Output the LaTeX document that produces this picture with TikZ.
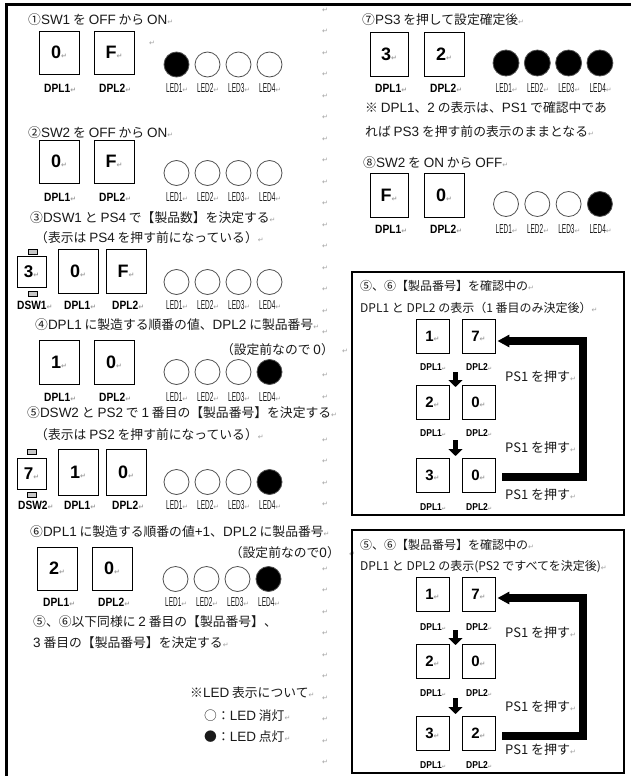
\documentclass[tikz,border=0pt]{standalone}
\usepackage{fontspec}
\usepackage{graphicx}
\setmainfont{Liberation Sans}
\newfontfamily\jpu{Noto Sans CJK JP}
\newfontfamily\arf{Liberation Sans}
\newfontfamily\dvf{DejaVu Sans}
\usetikzlibrary{arrows.meta,calc}
\newcommand\E[1]{{\arf\fontsize{13.5}{13.5}\selectfont #1}}
\definecolor{txt}{HTML}{1A1A1A}
\definecolor{pmc}{HTML}{A0A0A0}
\definecolor{ledline}{HTML}{505050}
\newcommand\pmark{{\dvf\fontsize{7}{7}\selectfont\textcolor{pmc}{↵}}}
\newcommand\pmsmall{{\dvf\fontsize{5}{5}\selectfont\textcolor{pmc}{↵}}}
\newcommand\sx[2][0.85]{\scalebox{#1}[1]{#2}}
\tikzset{
  jt/.style={font=\jpu\fontsize{12.8}{12.8}\selectfont, text=txt, inner sep=0, anchor=west},
  jtn/.style={font=\jpu\fontsize{12}{12}\selectfont, text=txt, inner sep=0, anchor=west},
  pst/.style={font=\jpu\fontsize{13}{13}\selectfont, text=txt, inner sep=0, anchor=west},
  dbox/.style={draw, line width=0.9pt, inner sep=0, minimum width=40pt, minimum height=43pt,
     font=\arf\bfseries\fontsize{18}{18}\selectfont},
  dboxs/.style={draw, line width=0.9pt, inner sep=0, minimum width=33pt, minimum height=34pt,
     font=\arf\bfseries\fontsize{15}{15}\selectfont},
  dsw/.style={draw, line width=0.9pt, inner sep=0, minimum width=29pt, minimum height=31pt,
     font=\arf\bfseries\fontsize{17}{17}\selectfont},
  tabk/.style={draw, fill=gray!45, line width=0.6pt, minimum width=9pt, minimum height=5pt, inner sep=0},
  led/.style={circle, draw=ledline, line width=0.8pt, minimum size=25pt, inner sep=0},
  lbl/.style={font=\arf\bfseries\fontsize{12}{12}\selectfont, inner sep=0, anchor=west},
  lbls/.style={font=\arf\bfseries\fontsize{10}{10}\selectfont, inner sep=0, anchor=west},
  ledlbl/.style={font=\arf\fontsize{13}{13}\selectfont, text=txt, inner sep=0, anchor=west},
  frameline/.style={line width=3pt},
  subframe/.style={draw, line width=2.2pt},
  loopbar/.style={line width=8pt, line join=miter, -{Triangle[length=12pt,width=12pt]}},
  downarr/.style={line width=5pt, -{Triangle[length=7pt,width=14pt]}},
  pmn/.style={inner sep=0}
}
\begin{document}
\begin{tikzpicture}[x=1pt,y=-1pt]
\useasboundingbox (0,0) rectangle (630,776);
\fill[white] (0,0) rectangle (630,776);
% outer frame
\draw[frameline] (6.5,776) -- (6.5,5) -- (632,5);
% paragraph mark column
\foreach \k in {0,...,15,17,18,20,21,22,23,26,27,28,29,30,31,32,33,34,35} \node[pmn] (pm\k) at (325,{10+21.5*\k}) {\pmark};

% ---------- Section 1
\node[jt] (t1) at (28,20) {①\E{SW1} を \E{OFF} から \E{ON}\pmark};
\node[dbox] (s1a) at (59,52.5) {0\pmark};
\node[dbox] (s1b) at (114,52.5) {F\pmark};
\node[lbl] (s1la) at (44,88) {\sx{DPL1}\pmark};
\node[lbl] (s1lb) at (99,88) {\sx{DPL2}\pmark};
\node[pmn] (s1pm) at (152,43) {\pmark};
\foreach \i/\f in {1/black,2/white,3/white,4/white}{
  \node[led, fill=\f] (s1L\i) at ({176.5+31*(\i-1)},64.5) {};
  \node[ledlbl] (s1T\i) at ({166+31*(\i-1)},88) {\sx[0.5]{LED\i}\pmark};}

% ---------- Section 2
\node[jt] (t2) at (28,133) {②\E{SW2} を \E{OFF} から \E{ON}\pmark};
\node[dbox] (s2a) at (59,161.5) {0\pmark};
\node[dbox] (s2b) at (114,161.5) {F\pmark};
\node[lbl] (s2la) at (44,197) {\sx{DPL1}\pmark};
\node[lbl] (s2lb) at (99,197) {\sx{DPL2}\pmark};
\foreach \i/\f in {1/white,2/white,3/white,4/white}{
  \node[led, fill=\f] (s2L\i) at ({176.5+31*(\i-1)},173) {};
  \node[ledlbl] (s2T\i) at ({166+31*(\i-1)},197) {\sx[0.5]{LED\i}\pmark};}

% ---------- Section 3
\node[jt] (t3) at (30,218) {③\E{DSW1} と \E{PS4} で【製品数】を決定する\pmark};
\node[jt] (t3b) at (35,238) {（表示は \E{PS4} を押す前になっている）\pmark};
\node[tabk] (s3tab) at (32.5,251.5) {};
\node[dsw] (s3s) at (31.5,271.5) {3\pmark};
\node[tabk] (s3tabb) at (32.5,293.5) {};
\node[dbox, minimum height=44pt] (s3a) at (78,271) {0\pmark};
\node[dbox, minimum height=44pt] (s3b) at (126,271) {F\pmark};
\node[lbl] (s3ls) at (17,305) {\sx{DSW1}\pmark};
\node[lbl] (s3la) at (64,305) {\sx{DPL1}\pmark};
\node[lbl] (s3lb) at (112,305) {\sx{DPL2}\pmark};
\foreach \i/\f in {1/white,2/white,3/white,4/white}{
  \node[led, fill=\f] (s3L\i) at ({176.5+31*(\i-1)},282) {};
  \node[ledlbl] (s3T\i) at ({166+31*(\i-1)},305) {\sx[0.5]{LED\i}\pmark};}

% ---------- Section 4
\node[jt] (t4) at (35,325) {④\E{DPL1} に製造する順番の値、\E{DPL2} に製品番号\pmark};
\node[jt, anchor=east] (t4b) at (334,350) {（設定前なので \E{0}）};
\node[pmn] (t4pm) at (345,351) {\pmark};
\node[dbox, minimum height=44pt] (s4a) at (59,362) {1\pmark};
\node[dbox, minimum height=44pt] (s4b) at (114,362) {0\pmark};
\node[lbl] (s4la) at (44,397) {\sx{DPL1}\pmark};
\node[lbl] (s4lb) at (99,397) {\sx{DPL2}\pmark};
\foreach \i/\f in {1/white,2/white,3/white,4/black}{
  \node[led, fill=\f] (s4L\i) at ({176.5+31*(\i-1)},372) {};
  \node[ledlbl] (s4T\i) at ({166+31*(\i-1)},397) {\sx[0.5]{LED\i}\pmark};}

% ---------- Section 5
\node[jt] (t5) at (27,413) {⑤\E{DSW2} と \E{PS2} で \E{1} 番目の【製品番号】を決定する\pmark};
\node[jt] (t5b) at (35,435) {（表示は \E{PS2} を押す前になっている）\pmark};
\node[tabk] (s5tab) at (32,451.5) {};
\node[dsw] (s5s) at (31.5,473.5) {7\pmark};
\node[tabk] (s5tabb) at (32,495) {};
\node[dbox, minimum height=46pt] (s5a) at (78,472) {1\pmark};
\node[dbox, minimum height=46pt] (s5b) at (126,472) {0\pmark};
\node[lbl] (s5ls) at (18,505) {\sx{DSW2}\pmark};
\node[lbl] (s5la) at (64,505) {\sx{DPL1}\pmark};
\node[lbl] (s5lb) at (112,505) {\sx{DPL2}\pmark};
\foreach \i/\f in {1/white,2/white,3/white,4/black}{
  \node[led, fill=\f] (s5L\i) at ({176.5+31*(\i-1)},482) {};
  \node[ledlbl] (s5T\i) at ({166+31*(\i-1)},505) {\sx[0.5]{LED\i}\pmark};}

% ---------- Section 6
\node[jt] (t6) at (30,532) {⑥\E{DPL1} に製造する順番の値\E{+1}、\E{DPL2} に製品番号\pmark};
\node[jt, anchor=east] (t6b) at (340,553) {（設定前なので\E{0}）};
\node[pmn] (t6pm) at (352,554) {\pmark};
\node[dbox] (s6a) at (57,568.5) {2\pmark};
\node[dbox] (s6b) at (112,568.5) {0\pmark};
\node[lbl] (s6la) at (43,602) {\sx{DPL1}\pmark};
\node[lbl] (s6lb) at (98,602) {\sx{DPL2}\pmark};
\foreach \i/\f in {1/white,2/white,3/white,4/black}{
  \node[led, fill=\f] (s6L\i) at ({175.5+31*(\i-1)},579) {};
  \node[ledlbl] (s6T\i) at ({165+31*(\i-1)},602) {\sx[0.5]{LED\i}\pmark};}
\node[jt] (t6c) at (33,622) {⑤、⑥以下同様に \E{2} 番目の【製品番号】、};
\node[jt] (t6d) at (33,643) {\E{3} 番目の【製品番号】を決定する\pmark};

% ---------- LED note
\node[jt] (n1) at (190,693) {※\E{LED} 表示について\pmark};
\node[jt] (n2) at (204,716) {○：\E{LED} 消灯\pmark};
\node[jt] (n3) at (204,737) {●：\E{LED} 点灯\pmark};

% ---------- Section 7
\node[jt] (t7) at (362,20) {⑦\E{PS3} を押して設定確定後\pmark};
\node[dbox, minimum width=38pt, minimum height=44pt] (s7a) at (389,54) {3\pmark};
\node[dbox, minimum height=44pt] (s7b) at (444,54) {2\pmark};
\node[lbl] (s7la) at (375,88) {\sx{DPL1}\pmark};
\node[lbl] (s7lb) at (430,88) {\sx{DPL2}\pmark};
\foreach \i/\f in {1/black,2/black,3/black,4/black}{
  \node[led, fill=\f, minimum size=26pt] (s7L\i) at ({506+31.3*(\i-1)},63) {};
  \node[ledlbl] (s7T\i) at ({495.5+31.3*(\i-1)},88) {\sx[0.5]{LED\i}\pmark};}
\node[jt] (t7b) at (365,108) {※ \E{DPL1}、\E{2} の表示は、\E{PS1} で確認中であ};
\node[jt] (t7c) at (365,132) {れば \E{PS3} を押す前の表示のままとなる\pmark};

% ---------- Section 8
\node[jt] (t8) at (363,163) {⑧\E{SW2} を \E{ON} から \E{OFF}\pmark};
\node[dbox, minimum width=38pt, minimum height=44pt] (s8a) at (389,195) {F\pmark};
\node[dbox, minimum height=44pt] (s8b) at (444,195) {0\pmark};
\node[lbl] (s8la) at (375,229) {\sx{DPL1}\pmark};
\node[lbl] (s8lb) at (430,229) {\sx{DPL2}\pmark};
\foreach \i/\f in {1/white,2/white,3/white,4/black}{
  \node[led, fill=\f] (s8L\i) at ({506+31.3*(\i-1)},204) {};
  \node[ledlbl] (s8T\i) at ({495.5+31.3*(\i-1)},229) {\sx[0.5]{LED\i}\pmark};}

% ---------- Box A
\draw[subframe] (352,272) rectangle (624,515);
\node[jtn] (a1) at (360,286) {⑤、⑥【製品番号】を確認中の\pmark};
\node[jtn] (a2) at (360,308) {DPL1 と DPL2 の表示（1 番目のみ決定後）\pmark};
\foreach \r/\y/\ly/\va/\vb in {1/336/367/1/7, 2/402.5/433/2/0, 3/475.5/507/3/0}{
  \node[dboxs] (a\r l) at (432.5,\y) {\va\pmark};
  \node[dboxs] (a\r r) at (478.5,\y) {\vb\pmark};
  \node[lbls] (a\r la) at (420,\ly) {\sx{DPL1}\pmsmall};
  \node[lbls] (a\r lb) at (466,\ly) {\sx{DPL2}\pmsmall};}
\coordinate (aA1) at (455.5,372);
\coordinate (aA2) at (455.5,387);
\coordinate (aB1) at (455.5,440);
\coordinate (aB2) at (455.5,456);
\draw[downarr] (aA1) -- (aA2);
\draw[downarr] (aB1) -- (aB2);
\draw[loopbar] ([shift={(7pt,-1.5pt)}]a3r.east) -| ([shift={(88pt,-5pt)}]a1r.east) -- ([shift={(2pt,-5pt)}]a1r.east);
\node[pst] (aps1) at (505,377) {PS1 を押す\pmark};
\node[pst] (aps2) at (505,448) {PS1 を押す\pmark};
\node[pst] (aps3) at (505,495) {PS1 を押す\pmark};

% ---------- Box B
\draw[subframe] (352,530) rectangle (624,773);
\node[jtn] (b1) at (360,545) {⑤、⑥【製品番号】を確認中の\pmark};
\node[jtn] (b2) at (360,567) {DPL1 と DPL2 の表示(PS2 ですべてを決定後)\pmark};
\foreach \r/\y/\ly/\va/\vb in {1/594.5/627/1/7, 2/661.5/693/2/0, 3/733.5/765/3/2}{
  \node[dboxs] (b\r l) at (432.5,\y) {\va\pmark};
  \node[dboxs] (b\r r) at (478.5,\y) {\vb\pmark};
  \node[lbls] (b\r la) at (420,\ly) {\sx{DPL1}\pmsmall};
  \node[lbls] (b\r lb) at (466,\ly) {\sx{DPL2}\pmsmall};}
\coordinate (bA1) at (455.5,630);
\coordinate (bA2) at (455.5,645);
\coordinate (bB1) at (455.5,698);
\coordinate (bB2) at (455.5,714);
\draw[downarr] (bA1) -- (bA2);
\draw[downarr] (bB1) -- (bB2);
\draw[loopbar] ([shift={(7pt,-2.5pt)}]b3r.east) -| ([shift={(88pt,-3.5pt)}]b1r.east) -- ([shift={(2pt,-3.5pt)}]b1r.east);
\node[pst] (bps1) at (505,633) {PS1 を押す\pmark};
\node[pst] (bps2) at (505,707) {PS1 を押す\pmark};
\node[pst] (bps3) at (505,750) {PS1 を押す\pmark};
\end{tikzpicture}
\end{document}
